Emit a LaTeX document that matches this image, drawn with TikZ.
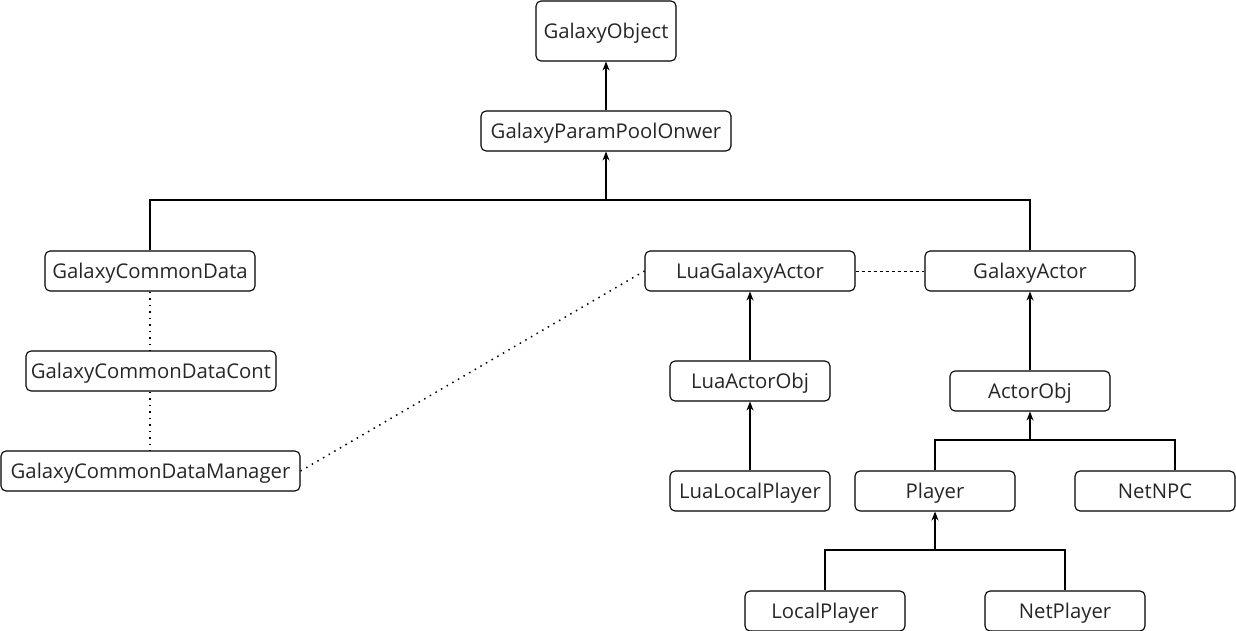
\documentclass[tikz,border=0pt]{standalone}
\usepackage{fontspec}
\setmainfont{Open Sans}
\usetikzlibrary{arrows.meta}
\begin{document}
\begin{tikzpicture}[x=1pt,y=-1pt,
  box/.style={draw, rounded corners=5pt, line width=1.1pt, inner sep=0pt, text height=14.5pt, text depth=0pt, font=\fontsize{20.3}{24}\selectfont, text=black!85},
  inh/.style={line width=1.1pt, -{Stealth[length=9pt,width=7pt]}},
  plain/.style={line width=1.1pt},
  dots/.style={line width=1.5pt, dash pattern=on 1.5pt off 5pt},
  dsh/.style={line width=1pt, dash pattern=on 3pt off 3pt}]
\useasboundingbox (0,0) rectangle (1236,631);
\newcommand{\bx}[6]{\node[box, minimum width=#4pt, minimum height=#5pt] (#1) at (#2,#3) {#6};}
\bx{go}{606}{31}{140}{60}{GalaxyObject}
\bx{gppo}{606}{131}{250}{40}{GalaxyParamPoolOnwer}
\bx{gcd}{150}{271}{210}{40}{GalaxyCommonData}
\bx{gcdc}{151}{371}{250}{40}{GalaxyCommonDataCont}
\bx{gcdm}{150.5}{471}{299}{40}{GalaxyCommonDataManager}
\bx{lga}{750}{271}{210}{40}{LuaGalaxyActor}
\bx{ga}{1030}{271}{210}{40}{GalaxyActor}
\bx{lao}{750}{381}{160}{40}{LuaActorObj}
\bx{llp}{750}{491}{160}{40}{LuaLocalPlayer}
\bx{ao}{1030}{391}{160}{40}{ActorObj}
\bx{pl}{935}{491}{160}{40}{Player}
\bx{npc}{1155}{491}{160}{40}{NetNPC}
\bx{lp}{825}{611}{160}{40}{LocalPlayer}
\bx{np}{1065}{611}{160}{40}{NetPlayer}
\coordinate (b1) at (606,200);
\coordinate (b2) at (935,550);
\coordinate (b3) at (1030,440);
\draw[inh] (gppo.north) -- (go.south);
\draw[plain] (gcd.north) |- (b1);
\draw[plain] (ga.north) |- (b1);
\draw[inh] (b1) -- (gppo.south);
\draw[inh] (lao.north) -- (lga.south);
\draw[inh] (llp.north) -- (lao.south);
\draw[inh] (ao.north) -- (ga.south);
\draw[plain] (pl.north) |- (b3);
\draw[plain] ([xshift=20pt]npc.north) |- (b3);
\draw[inh] (b3) -- (ao.south);
\draw[plain] (lp.north) |- (b2);
\draw[plain] (np.north) |- (b2);
\draw[inh] (b2) -- (pl.south);
\draw[dots] (gcd.south) -- (gcdc.north -| gcd.south);
\draw[dots] (gcdc.south -| gcd.south) -- (gcdm.north -| gcd.south);
\draw[dots] (gcdm.east) -- (lga.west);
\draw[dsh] (lga.east) -- (ga.west);
\end{tikzpicture}
\end{document}
